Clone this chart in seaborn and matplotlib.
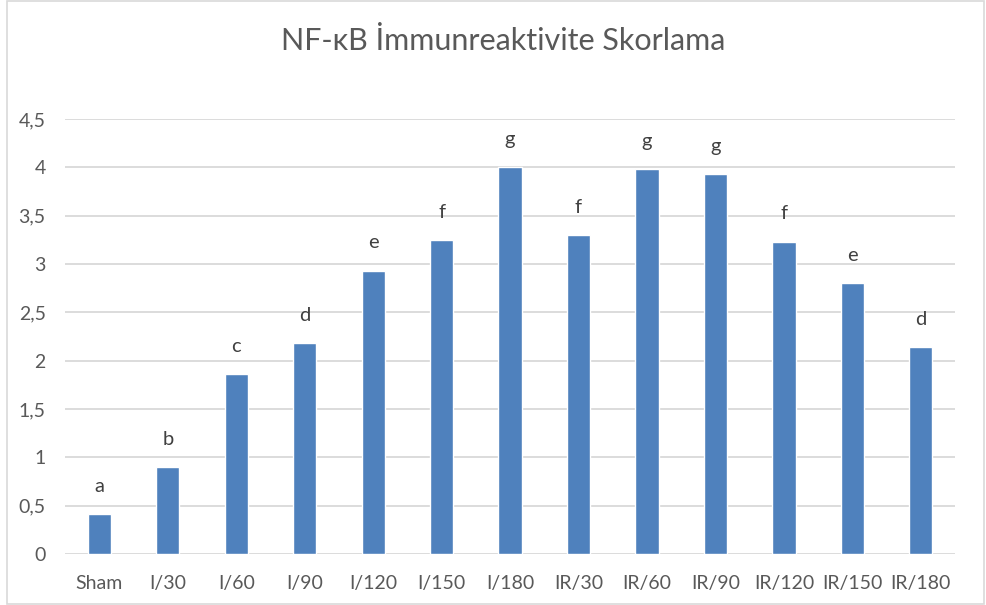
import matplotlib
matplotlib.use("Agg")
import matplotlib.pyplot as plt
from matplotlib.ticker import FuncFormatter, MultipleLocator
from matplotlib.patches import Rectangle
import seaborn as sns
import pandas as pd

# data
groups = ["Sham", "I/30", "I/60", "I/90", "I/120", "I/150", "I/180",
          "IR/30", "IR/60", "IR/90", "IR/120", "IR/150", "IR/180"]
scores = [0.41, 0.90, 1.86, 2.18, 2.93, 3.25, 4.00,
          3.30, 3.98, 3.93, 3.23, 2.80, 2.14]
letters = ["a", "b", "c", "d", "e", "f", "g",
           "f", "g", "g", "f", "e", "d"]

df = pd.DataFrame({"group": groups, "score": scores})

sns.set_style("white")
plt.rcParams['font.family'] = ['Lato', 'DejaVu Sans']

fig = plt.figure(figsize=(9.87, 6.05), dpi=100)
ax = fig.add_axes([0.066, 0.0843, 0.9016, 0.7187])

sns.barplot(data=df, x="group", y="score", color="#4F81BD", width=0.34,
            saturation=1, ax=ax, zorder=3)

ax.set_ylim(0, 4.5)
ax.yaxis.set_major_locator(MultipleLocator(0.5))
ax.yaxis.set_major_formatter(FuncFormatter(lambda v, p: f"{v:g}".replace(".", ",")))
ax.grid(axis="y", color="#D9D9D9", linewidth=1.3, zorder=0)
ax.set_axisbelow(True)
for s in ax.spines.values():
    s.set_visible(False)
ax.set_xlabel("")
ax.set_ylabel("")
ax.tick_params(axis="both", length=0, labelsize=14, labelcolor="#595959")
ax.tick_params(axis="x", pad=15)
ax.tick_params(axis="y", pad=14)

# significance letters above the bars
for i, (v, l) in enumerate(zip(scores, letters)):
    ax.annotate(l, (i, v), xytext=(0, 14), textcoords="offset points",
                ha="center", va="bottom", fontsize=14.5, color="#404040")

fig.suptitle("NF-κB İmmunreaktivite Skorlama", x=0.51, y=0.955, fontsize=22,
             color="#595959")

# light chart-area border like the spreadsheet export
fig.patches.append(Rectangle((0.007, 0.002), 0.99, 0.996, transform=fig.transFigure,
                             fill=False, edgecolor="#D9D9D9", linewidth=1.2))

fig.savefig("out.png", dpi=100)
